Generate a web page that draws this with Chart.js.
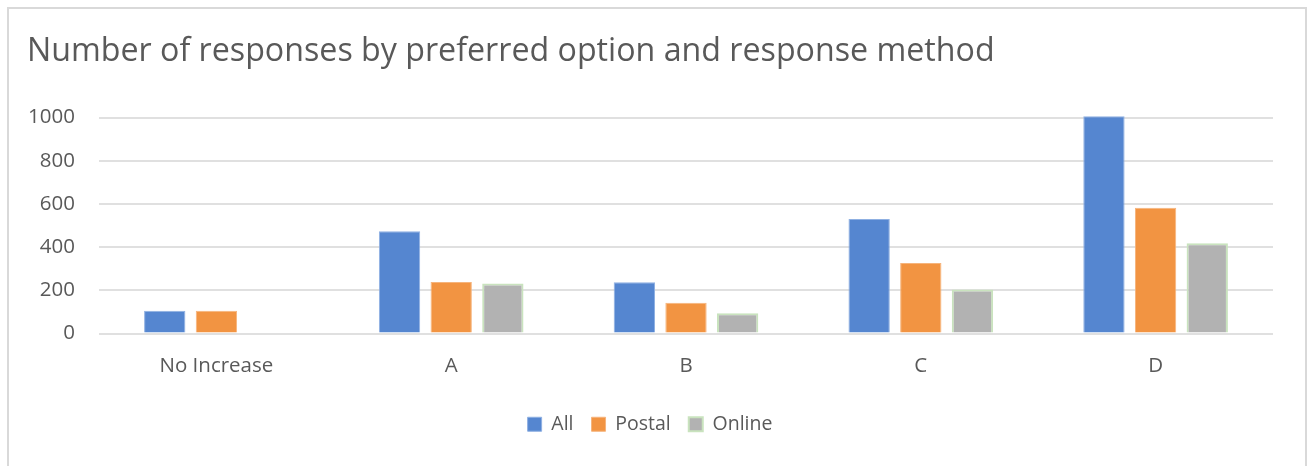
<!DOCTYPE html>
<html>
<head>
<meta charset="utf-8">
<script src="https://cdn.jsdelivr.net/npm/chart.js@4.4.1/dist/chart.umd.min.js"></script>
<style>
  html, body { margin: 0; padding: 0; background: #fff; }
  #wrap { position: relative; width: 1313px; height: 466px; }
  #frame { position: absolute; left: 7px; top: 7px; width: 1300px; height: 470px; border: 2px solid #d9d9d9; box-sizing: border-box; pointer-events: none; }
  canvas { position: absolute; left: 0; top: 0; }
</style>
</head>
<body>
<div id="wrap">
  <canvas id="c" width="1313" height="466"></canvas>
  <div id="frame"></div>
</div>
<script>
const categories = ["No Increase", "A", "B", "C", "D"];
const allValues = [105, 474, 238, 531, 1006];
const postalValues = [105, 239, 142, 327, 582];
const onlineValues = [0, 232, 94, 204, 418];
const yTicks = [0, 200, 400, 600, 800, 1000];

const fontFamily = "'Open Sans', 'Noto Sans', sans-serif";
const textColor = "#595959";

new Chart(document.getElementById("c"), {
  type: "bar",
  data: {
    labels: categories,
    datasets: [
      { label: "All", data: allValues, backgroundColor: "#5586D0", borderColor: "#8FB0E2", borderWidth: 1, clip: false },
      { label: "Postal", data: postalValues, backgroundColor: "#F29442", borderColor: "#F6B47C", borderWidth: 1, clip: false },
      { label: "Online", data: onlineValues, backgroundColor: "#B2B2B2", borderColor: "#C9E3BE", borderWidth: 2, clip: false }
    ]
  },
  options: {
    responsive: false,
    animation: false,
    layout: { padding: { left: 27, right: 40, top: 25, bottom: 22 } },
    datasets: { bar: { categoryPercentage: 0.66, barPercentage: 0.8 } },
    scales: {
      x: {
        grid: { display: false, drawTicks: false },
        border: { display: false },
        ticks: { color: textColor, font: { family: fontFamily, size: 20.5 }, padding: 20 },
        afterFit: (axis) => { axis.height = 63; }
      },
      y: {
        min: 0, max: 1000,
        afterBuildTicks: (axis) => { axis.ticks = yTicks.map(v => ({ value: v })); },
        grid: { color: "#e0e0e0", lineWidth: 2, drawTicks: false },
        border: { display: false },
        ticks: { color: textColor, font: { family: fontFamily, size: 20.5 }, padding: 24, callback: (v) => String(v) },
        afterFit: (axis) => { axis.width = 72; }
      }
    },
    plugins: {
      title: {
        display: true,
        text: "Number of responses by preferred option and response method",
        align: "start",
        color: textColor,
        font: { family: fontFamily, size: 32.2, weight: "normal" },
        padding: { top: 8, bottom: 46 }
      },
      legend: {
        position: "bottom",
        labels: {
          color: textColor,
          font: { family: fontFamily, size: 19.5 },
          boxWidth: 14, boxHeight: 14, padding: 18
        }
      },
      tooltip: { enabled: false }
    }
  }
});
</script>
</body>
</html>
